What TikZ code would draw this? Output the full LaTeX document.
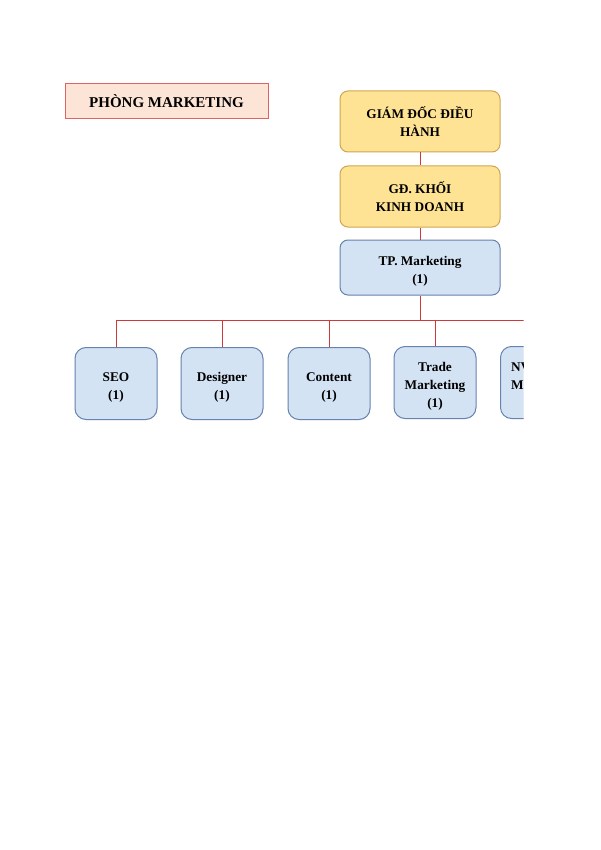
\documentclass[tikz,border=0pt]{standalone}
\usepackage{fontspec}
\setmainfont{Liberation Serif}
\usetikzlibrary{positioning}

\definecolor{vangnen}{HTML}{FFE394}
\definecolor{vangvien}{HTML}{CFA552}
\definecolor{xanhnen}{HTML}{D4E3F4}
\definecolor{xanhvien}{HTML}{6682AE}
\definecolor{tieudenen}{HTML}{FCE4D6}
\definecolor{tieudevien}{HTML}{DD6466}
\definecolor{duongdo}{HTML}{CC3A3A}

% chu trong o xanh nam thap hon mot chut
\newcommand{\dichxuong}[1]{\raisebox{-3.5pt}[\height][\depth]{\begin{tabular}{@{}c@{}}#1\end{tabular}}}

\tikzset{
  vangbox/.style={draw=vangvien, fill=vangnen, rounded corners=8pt, line width=1pt,
    minimum width=160pt, minimum height=61pt, align=center, inner sep=2pt},
  xanhbox/.style={draw=xanhvien, fill=xanhnen, rounded corners=8pt, line width=1pt,
    minimum width=160pt, minimum height=55pt, inner sep=2pt},
  conbox/.style={draw=xanhvien, fill=xanhnen, rounded corners=11pt, line width=1pt,
    minimum width=82pt, minimum height=72pt, inner sep=2pt},
  link/.style={draw=duongdo, line width=0.8pt}
}

\begin{document}
\begin{tikzpicture}[x=1pt, y=-1pt,
    every node/.style={font=\fontsize{13.3}{17.8}\selectfont\bfseries}]
  % Khung trang
  \fill[white] (0,0) rectangle (600,850);
  \useasboundingbox (0,0) rectangle (600,850);

  \begin{scope}
    \clip (0,0) rectangle (523.5,850);

    % Tieu de
    \node[draw=tieudevien, fill=tieudenen, line width=1pt, minimum width=203pt, minimum height=35pt,
      font=\fontsize{15}{18}\selectfont\bfseries] (tieude) at (166.5,101.5) {PHÒNG MARKETING};

    % Cap quan ly
    \node[vangbox] (giamdoc) at (420,121.5) {GIÁM ĐỐC ĐIỀU\\HÀNH};
    \node[vangbox] (khoi) at (420,196.5) {GĐ. KHỐI\\KINH DOANH};
    \node[xanhbox] (truongphong) at (420,267.5) {\dichxuong{TP. Marketing\\(1)}};

    % Nhan vien
    \node[conbox] (seo) at (116,383.5) {\dichxuong{SEO\\(1)}};
    \node[conbox] (designer) at (222,383.5) {\dichxuong{Designer\\(1)}};
    \node[conbox] (content) at (329,383.5) {\dichxuong{Content\\(1)}};
    \node[conbox] (trade) at (435,382.5) {\dichxuong{Trade\\Marketing\\(1)}};
    \node[conbox] (nv) at (541.5,382.5) {\dichxuong{NV Digital\\Marketing\\(1)}};

    % Duong noi
    \draw[link] (giamdoc) -- (khoi);
    \draw[link] (khoi) -- (truongphong);
    \coordinate (bus) at (420,320);
    \draw[link] (truongphong) -- (bus);
    \foreach \con in {seo, designer, content, trade, nv}
      \draw[link] (bus) -| (\con.north);
  \end{scope}
\end{tikzpicture}
\end{document}
